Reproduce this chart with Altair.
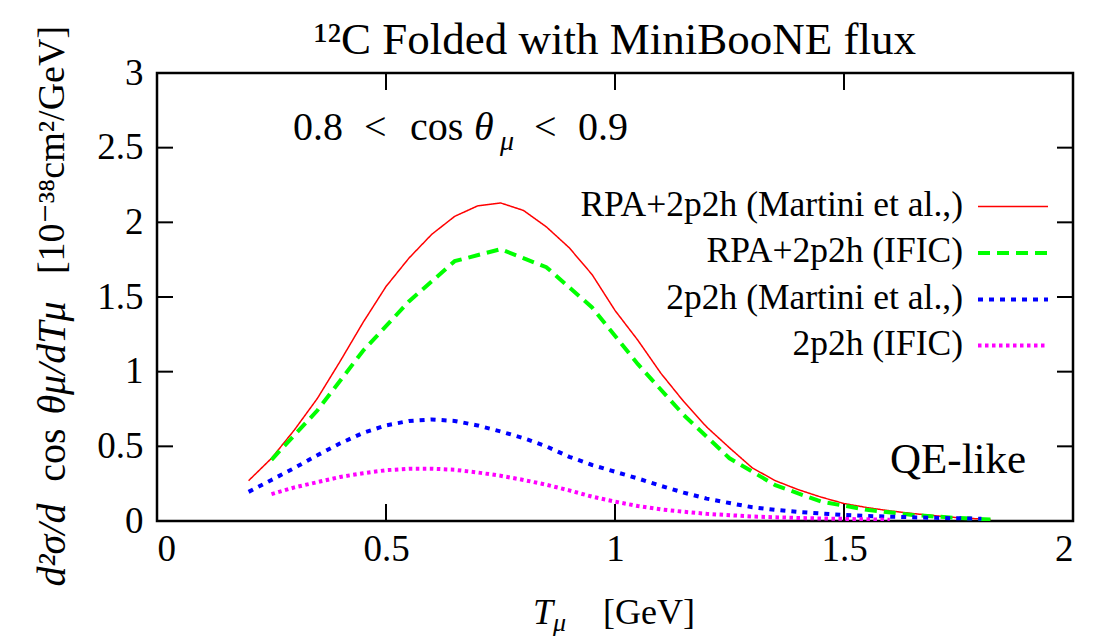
import altair as alt
import pandas as pd

# ---------------- data ----------------
names = ["RPA+2p2h (Martini et al.,)", "RPA+2p2h (IFIC)", "2p2h (Martini et al.,)", "2p2h (IFIC)"]
colors = ["#ff0000", "#00ff00", "#0000ff", "#ff00ff"]

rpa_martini_x = [0.20, 0.25, 0.30, 0.35, 0.40, 0.45, 0.50, 0.55, 0.60, 0.65, 0.70, 0.75, 0.80, 0.85,
                 0.90, 0.95, 1.00, 1.05, 1.10, 1.15, 1.20, 1.25, 1.30, 1.35, 1.40, 1.45, 1.50, 1.55,
                 1.60, 1.65, 1.70, 1.75, 1.80, 1.82]
rpa_martini_y = [0.27, 0.42, 0.61, 0.82, 1.07, 1.33, 1.57, 1.76, 1.92, 2.04, 2.11, 2.13, 2.08, 1.97,
                 1.83, 1.65, 1.41, 1.21, 0.99, 0.80, 0.63, 0.49, 0.355, 0.27, 0.21, 0.16, 0.117, 0.09,
                 0.068, 0.05, 0.035, 0.022, 0.013, 0.01]

rpa_ific_x = [0.25, 0.35, 0.45, 0.55, 0.65, 0.75, 0.85, 0.95, 1.05, 1.15, 1.25, 1.35, 1.45, 1.55,
              1.65, 1.75, 1.82]
rpa_ific_y = [0.41, 0.74, 1.14, 1.47, 1.74, 1.82, 1.70, 1.43, 1.05, 0.71, 0.42, 0.24, 0.13, 0.075,
              0.04, 0.02, 0.01]

np_martini_x = [0.20, 0.25, 0.30, 0.35, 0.40, 0.45, 0.50, 0.55, 0.60, 0.65, 0.70, 0.75, 0.80, 0.85,
                0.90, 0.95, 1.00, 1.05, 1.10, 1.15, 1.20, 1.25, 1.30, 1.35, 1.40, 1.45, 1.50, 1.55,
                1.60, 1.65, 1.70, 1.75, 1.80]
np_martini_y = [0.195, 0.275, 0.355, 0.44, 0.52, 0.59, 0.64, 0.67, 0.68, 0.67, 0.64, 0.60, 0.555, 0.50,
                0.43, 0.375, 0.33, 0.285, 0.235, 0.19, 0.15, 0.12, 0.092, 0.075, 0.061, 0.05, 0.04, 0.034,
                0.029, 0.025, 0.021, 0.018, 0.015]

np_ific_x = [0.25, 0.30, 0.35, 0.40, 0.45, 0.50, 0.55, 0.60, 0.65, 0.70, 0.75, 0.80, 0.85, 0.90,
             0.95, 1.00, 1.05, 1.10, 1.15, 1.20, 1.30, 1.40, 1.50, 1.60]
np_ific_y = [0.18, 0.225, 0.26, 0.295, 0.32, 0.34, 0.35, 0.35, 0.343, 0.325, 0.303, 0.275, 0.243, 0.205,
             0.163, 0.13, 0.10, 0.078, 0.062, 0.048, 0.03, 0.02, 0.014, 0.008]

x_ticks = [0, 0.5, 1, 1.5, 2]
y_ticks = [0, 0.5, 1, 1.5, 2, 2.5, 3]

series_x = [rpa_martini_x, rpa_ific_x, np_martini_x, np_ific_x]
series_y = [rpa_martini_y, rpa_ific_y, np_martini_y, np_ific_y]

rows = []
for n, xs_, ys_ in zip(names, series_x, series_y):
    for a, b in zip(xs_, ys_):
        rows.append({"series": n, "x": a, "y": b})
df = pd.DataFrame(rows)
legend_df = pd.DataFrame({"series": names})
xt_df = pd.DataFrame({"v": x_ticks})
yt_df = pd.DataFrame({"v": y_ticks})

# ---------------- styling ----------------
W, H = 916, 448
FONT = "'Liberation Serif', 'DejaVu Serif', 'Times New Roman', serif"
line_widths = [1.5, 4, 4, 4]
line_dashes = [[1, 0], [12, 7], [5, 6], [3.5, 3.5]]

xs = alt.Scale(domain=[0, 2], nice=False, zero=False)
ys = alt.Scale(domain=[0, 3], nice=False, zero=False)
x_axis = alt.Axis(values=x_ticks, format="~g", title=None, ticks=False, domain=False, grid=False,
                  labelFont=FONT, labelFontSize=37, labelColor="black", labelPadding=10)
y_axis = alt.Axis(values=y_ticks, format="~g", title=None, ticks=False, domain=False, grid=False,
                  labelFont=FONT, labelFontSize=37, labelColor="black", labelPadding=14)

color_enc = alt.Color("series:N", scale=alt.Scale(domain=names, range=colors), legend=None)
dash_enc = alt.StrokeDash("series:N", scale=alt.Scale(type="ordinal", domain=names, range=line_dashes), legend=None)

layers = []
for n, w in zip(names, line_widths):
    layers.append(
        alt.Chart(df).transform_filter(alt.datum.series == n).mark_line(clip=True, strokeWidth=w).encode(
            x=alt.X("x:Q", scale=xs, axis=x_axis),
            y=alt.Y("y:Q", scale=ys, axis=y_axis),
            color=color_enc, strokeDash=dash_enc,
        )
    )

# inward ticks on all four sides
tick_style = dict(color="black", strokeWidth=2)
layers.append(alt.Chart(xt_df).mark_rule(**tick_style).encode(
    x=alt.X("v:Q", scale=xs, axis=x_axis), y=alt.value(H), y2=alt.value(H - 17)))
layers.append(alt.Chart(xt_df).mark_rule(**tick_style).encode(
    x=alt.X("v:Q", scale=xs, axis=x_axis), y=alt.value(0), y2=alt.value(17)))
layers.append(alt.Chart(yt_df).mark_rule(**tick_style).encode(
    y=alt.Y("v:Q", scale=ys, axis=y_axis), x=alt.value(0), x2=alt.value(16)))
layers.append(alt.Chart(yt_df).mark_rule(**tick_style).encode(
    y=alt.Y("v:Q", scale=ys, axis=y_axis), x=alt.value(W), x2=alt.value(W - 16)))

# legend (labels left, samples right)
legend_y = [133.5, 180, 226.5, 272.5]
for n, py, w in zip(names, legend_y, line_widths):
    sub = alt.Chart(legend_df).transform_filter(alt.datum.series == n)
    layers.append(sub.mark_text(font=FONT, fontSize=35.5, align="right", baseline="middle", color="black", dy=-2).encode(
        x=alt.value(806), y=alt.value(py), text="series:N"))
    layers.append(sub.mark_rule(strokeWidth=w).encode(
        x=alt.value(821), x2=alt.value(891), y=alt.value(py),
        color=color_enc, strokeDash=dash_enc))


def label(text, px, py, size, align="left", baseline="alphabetic", style="normal", angle=0):
    kw = dict(font=FONT, fontSize=size, align=align, baseline=baseline, fontStyle=style, color="black")
    if angle:
        kw["angle"] = angle
    return alt.Chart(legend_df.head(1)).mark_text(text=text, **kw).encode(x=alt.value(px), y=alt.value(py))


# title
layers.append(label("\u00b9\u00b2C Folded with MiniBooNE flux", W / 2, -33, 45, align="center", baseline="middle"))
# angle-range annotation
layers.append(label("0.8", 136, 67, 40))
layers.append(label("<", 207, 67, 40))
layers.append(label("cos", 253, 67, 40))
layers.append(label("\u03b8", 317, 67, 40, style="italic"))
layers.append(label("\u03bc", 343, 77, 28, style="italic"))
layers.append(label("<", 377, 67, 40))
layers.append(label("0.9", 421, 67, 40))
# QE-like
layers.append(label("QE-like", 733, 400, 43))
# x title
layers.append(label("T", 376, 551, 36, style="italic"))
layers.append(label("\u03bc", 396, 558, 26, style="italic"))
layers.append(label("[GeV]", 446, 551, 36))
# y title (rotated, pieces so that the math parts are italic)
layers.append(label("d\u00b2\u03c3/d", -104, 472, 40, align="center", baseline="middle", style="italic", angle=270))
layers.append(label("cos", -104, 382, 40, align="center", baseline="middle", angle=270))
layers.append(label("\u03b8\u03bc/dT\u03bc", -104, 285, 40, align="center", baseline="middle", style="italic", angle=270))
layers.append(label("[10\u207b\u00b3\u2078cm\u00b2/GeV]", -104, 77, 38, align="center", baseline="middle", angle=270))

chart = alt.layer(*layers).properties(
    width=W, height=H,
    padding={"left": 149, "top": 65, "right": 14, "bottom": 120},
    autosize=alt.AutoSizeParams(type="none"),
    background="white",
).configure_view(stroke="black", strokeWidth=2.5)

chart.save("out.html", embed_options={"renderer": "svg", "actions": False})
